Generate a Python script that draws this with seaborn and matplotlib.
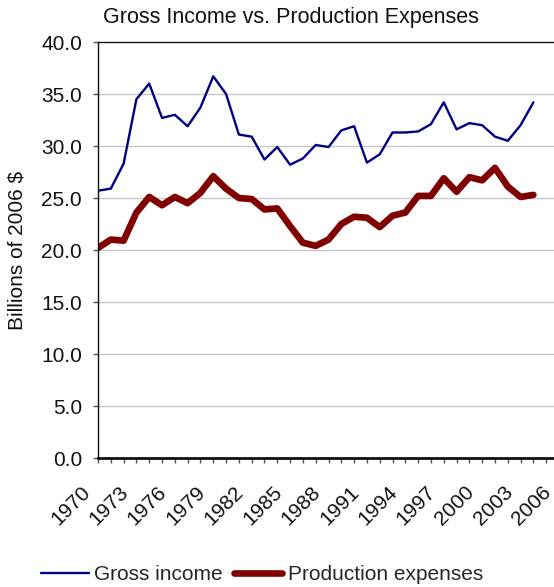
import matplotlib
matplotlib.use("Agg")
import matplotlib.pyplot as plt
import matplotlib.transforms as mtransforms
import seaborn as sns
import pandas as pd

years = list(range(1970, 2005))
gross_income = [25.7, 25.9, 28.3, 34.5, 36.0, 32.7, 33.0, 31.9, 33.7, 36.7,
                35.0, 31.1, 30.9, 28.7, 29.9, 28.2, 28.8, 30.1, 29.9, 31.5,
                31.9, 28.4, 29.2, 31.3, 31.3, 31.4, 32.1, 34.2, 31.6, 32.2,
                32.0, 30.9, 30.5, 32.0, 34.2]
production_expenses = [20.2, 21.0, 20.9, 23.6, 25.1, 24.3, 25.1, 24.5, 25.5, 27.1,
                       25.9, 25.0, 24.9, 23.9, 24.0, 22.3, 20.7, 20.4, 21.0, 22.5,
                       23.2, 23.1, 22.2, 23.3, 23.6, 25.2, 25.2, 26.9, 25.6, 27.0,
                       26.7, 27.9, 26.1, 25.1, 25.3]
axis_years = list(range(1970, 2007))
label_years = list(range(1970, 2007, 3))
y_ticks = [0, 5, 10, 15, 20, 25, 30, 35, 40]

sns.set_theme(style="white")
plt.rcParams["font.family"] = ["Liberation Sans", "DejaVu Sans"]

df = pd.DataFrame({"Year": years,
                   "Gross income": gross_income,
                   "Production expenses": production_expenses})

W, H = 554, 587
FS = 15
fig = plt.figure(figsize=(W / 100, H / 100), dpi=100)
ax = fig.add_axes([98 / W, (H - 458) / H, (559 - 98) / W, (458 - 42) / H])

for y in y_ticks[1:-1]:
    ax.axhline(y, color="#c8c8c8", lw=1.0, zorder=0)

sns.lineplot(data=df, x="Year", y="Gross income", ax=ax, color="#000080",
             lw=1.7, label="Gross income", legend=False)
sns.lineplot(data=df, x="Year", y="Production expenses", ax=ax, color="#800000",
             lw=4.8, label="Production expenses", legend=False,
             solid_capstyle="round", solid_joinstyle="round")

ax.set_xlim(1970, 2006)
ax.set_ylim(0, 40)
ax.set_yticks(y_ticks)
ax.set_yticklabels([f"{v:.1f}" for v in y_ticks], fontsize=FS, color="#111111")
ax.set_xticks(axis_years)
ax.set_xticklabels([str(y) if y in label_years else "" for y in axis_years],
                   rotation=45, ha="right", va="center", rotation_mode="anchor",
                   fontsize=FS, color="#111111")
ax.tick_params(axis="both", which="major", length=3.6, width=1, color="#555555",
               direction="out", bottom=True, left=True)
ax.tick_params(axis="y", pad=8)
ax.tick_params(axis="x", pad=0)

# shift the slanted year labels so they end just left of and below their ticks
shift = mtransforms.ScaledTranslation(-11 / 100, -26 / 100, fig.dpi_scale_trans)
for lab in ax.get_xticklabels():
    lab.set_transform(lab.get_transform() + shift)

ax.set_xlabel("")
ax.set_ylabel("Billions of 2006 $", fontsize=FS, color="#111111")
ax.yaxis.set_label_coords((27 - 98) / (559 - 98), (458 - 250) / (458 - 42))

for side in ["left", "top"]:
    ax.spines[side].set_color("#111111")
    ax.spines[side].set_linewidth(1.0)
ax.spines["bottom"].set_color("#111111")
ax.spines["bottom"].set_linewidth(2.0)
ax.spines["right"].set_visible(False)

fig.text(291 / W, 1 - 18 / H, "Gross Income vs. Production Expenses",
         ha="center", va="center", fontsize=15.5, color="#111111")

handles, labels = ax.get_legend_handles_labels()
fig.legend(handles, labels, loc="center", bbox_to_anchor=(262 / W, 1 - 575 / H),
           ncol=2, frameon=False, fontsize=FS, handlelength=2.3,
           handletextpad=0.25, columnspacing=0.55, borderpad=0)

fig.savefig("out.png", dpi=100)
